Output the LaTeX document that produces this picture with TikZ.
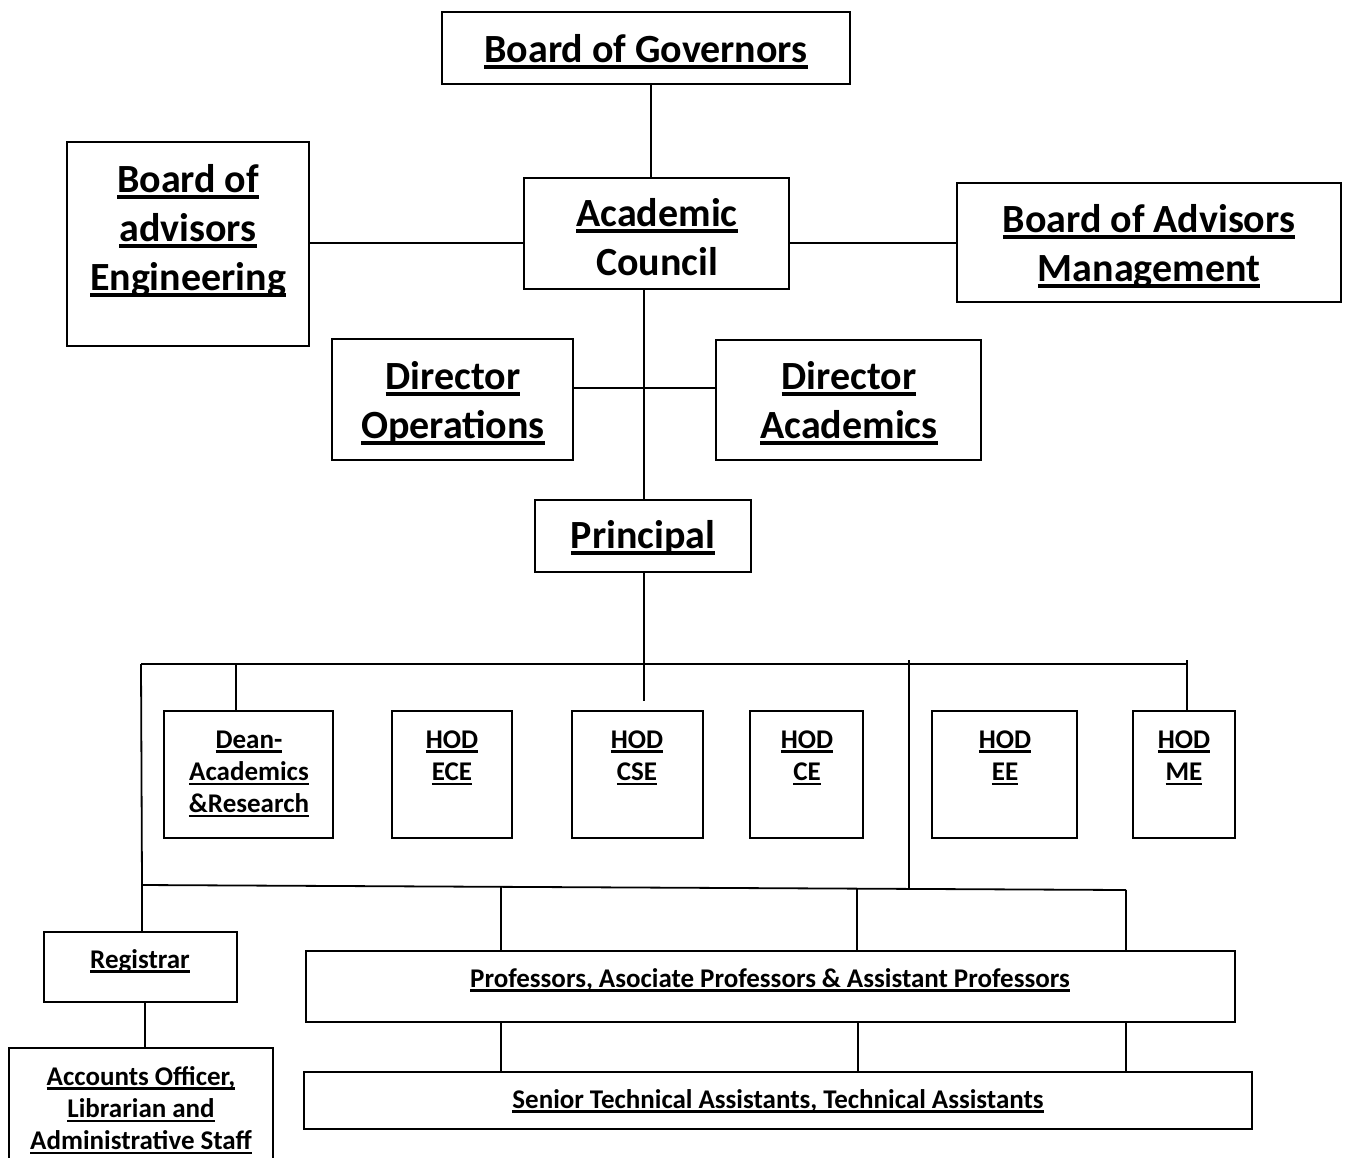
\documentclass[tikz,border=0pt]{standalone}
\usepackage{fontspec}
\setmainfont{Carlito}
\newcommand{\UL}[1]{\leavevmode\setbox0\hbox{\spaceskip=0.22em\relax #1}\rlap{\rule[-0.17em]{\wd0}{0.085em}}\box0}
\newcommand{\mkbox}[5]{\node[orgbox, minimum width={(#4)-(#2)}, minimum height={(#5)-(#3)}] (#1) at ({((#2)+(#4))/2},{((#3)+(#5))/2}) {};}
\tikzset{
  orgbox/.style={draw=black, line width=1.8pt, inner sep=0pt, outer sep=0pt},
  bigtxt/.style={font=\fontsize{40}{49}\selectfont\bfseries, text width=600pt, align=center, inner sep=0pt, anchor=base},
  smalltxt/.style={font=\fontsize{27}{32.3}\selectfont\bfseries, text width=700pt, align=center, inner sep=0pt, anchor=base},
  conn/.style={line width=1.8pt, draw=black},
}
\begin{document}
\begin{tikzpicture}[x=1pt,y=-1pt]
\clip (0,0) rectangle (1348,1157);
\fill[white] (0,0) rectangle (1348,1157);
% boxes
\mkbox{bog}{442}{12}{850}{84}
\mkbox{bae}{67}{142}{309}{346}
\mkbox{ac}{524}{178}{789}{289}
\mkbox{bam}{957}{183}{1341}{302}
\mkbox{dop}{332}{339}{573}{460}
\mkbox{dac}{716}{340}{981}{460}
\mkbox{pr}{535}{500}{751}{572}
\mkbox{dean}{164}{711}{333}{838}
\mkbox{ece}{392}{711}{512}{838}
\mkbox{cse}{572}{711}{703}{838}
\mkbox{ce}{750}{711}{863}{838}
\mkbox{ee}{932}{711}{1077}{838}
\mkbox{me}{1133}{711}{1235}{838}
\mkbox{reg}{44}{932}{237}{1002}
\mkbox{acc}{9}{1048}{273}{1165}
\mkbox{prof}{306}{951}{1235}{1022}
\mkbox{sen}{304}{1072}{1252}{1129}
% texts
\node[bigtxt] (tbog) at (646,62) {\UL{Board of Governors}};
\node[bigtxt] (tbae) at (188,192) {\UL{Board of}\\\UL{advisors}\\\UL{Engineering}};
\node[bigtxt] (tac) at (657,226) {\UL{Academic}\\Council};
\node[bigtxt] (tbam) at (1149,232) {\UL{Board of Advisors}\\\UL{Management}};
\node[bigtxt] (tdop) at (453,389) {\UL{Director}\\\UL{Operations}};
\node[bigtxt] (tdac) at (849,389) {\UL{Director}\\\UL{Academics}};
\node[bigtxt] (tpr) at (643,548) {\UL{Principal}};
\node[smalltxt] (tdean) at (249,748) {\UL{Dean-}\\\UL{Academics}\\\UL{\&Research}};
\node[smalltxt] (tece) at (452,748) {\UL{HOD}\\\UL{ECE}};
\node[smalltxt] (tcse) at (637,748) {\UL{HOD}\\\UL{CSE}};
\node[smalltxt] (tce) at (807,748) {\UL{HOD}\\\UL{CE}};
\node[smalltxt] (tee) at (1005,748) {\UL{HOD}\\\UL{EE}};
\node[smalltxt] (tme) at (1184,748) {\UL{HOD}\\\UL{ME}};
\node[smalltxt] (treg) at (140,968) {\UL{Registrar}};
\node[smalltxt] (tacc) at (141,1085) {\UL{Accounts Officer,}\\\UL{Librarian and}\\\UL{Administrative Staff}};
\node[smalltxt] (tprof) at (770,987) {\UL{Professors, Asociate Professors \& Assistant Professors}};
\node[smalltxt] (tsen) at (778,1108) {\UL{Senior Technical Assistants, Technical Assistants}};
% helper coordinates
\coordinate (xa) at (651,0);
\coordinate (xb) at (644,0);
\coordinate (ya) at (0,243);
\coordinate (yb) at (0,388);
\coordinate (pdrop) at (644,701);
\coordinate (busL) at (141,664);
\coordinate (busR) at (1187,664);
\coordinate (xd) at (236,0);
\coordinate (vtop) at (909,660);
\coordinate (vbot) at (909,888);
\coordinate (metop) at (1187,660);
\coordinate (lowL) at (142,885);
\coordinate (lowR) at (1126,890);
\coordinate (j1) at (501,887);
\coordinate (j2) at (857,889);
\coordinate (xr) at (145,0);
\coordinate (k1) at (501,0);
\coordinate (k2) at (858,0);
\coordinate (k3) at (1126,0);
% connectors
\draw[conn] (xa |- bog.south) -- (xa |- ac.north);
\draw[conn] (bae.east |- ya) -- (ac.west |- ya);
\draw[conn] (ac.east |- ya) -- (bam.west |- ya);
\draw[conn] (xb |- ac.south) -- (xb |- pr.north);
\draw[conn] (dop.east |- yb) -- (dac.west |- yb);
\draw[conn] (xb |- pr.south) -- (pdrop);
\draw[conn] (busL) -- (busR);
\draw[conn] (busL) -- (lowL);
\draw[conn] (lowL) -- (lowL |- reg.north);
\draw[conn] (xd |- busL) -- (xd |- dean.north);
\draw[conn] (vtop) -- (vbot);
\draw[conn] (metop) -- (metop |- me.north);
\draw[conn] (lowL) -- (lowR);
\draw[conn] (j1) -- (j1 |- prof.north);
\draw[conn] (j2) -- (j2 |- prof.north);
\draw[conn] (lowR) -- (lowR |- prof.north);
\draw[conn] (xr |- reg.south) -- (xr |- acc.north);
\draw[conn] (k1 |- prof.south) -- (k1 |- sen.north);
\draw[conn] (k2 |- prof.south) -- (k2 |- sen.north);
\draw[conn] (k3 |- prof.south) -- (k3 |- sen.north);
\end{tikzpicture}
\end{document}
